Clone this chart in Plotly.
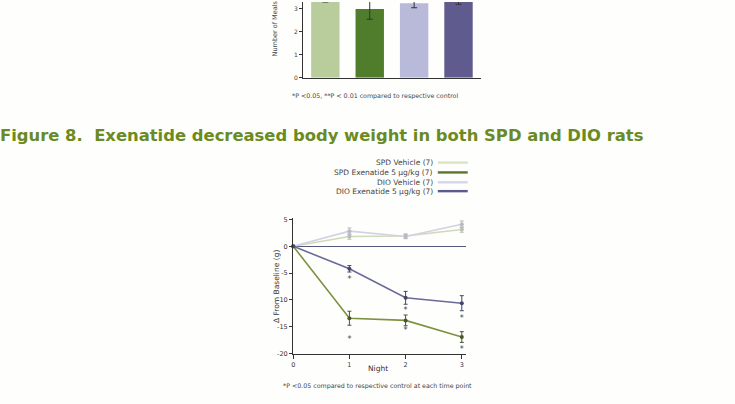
import plotly.graph_objects as go

W, H = 735, 404
def px(x): return x / W
def py(y): return 1 - y / H

# ---- data ----
bar_groups = ["SPD Vehicle", "SPD Exenatide", "DIO Vehicle", "DIO Exenatide"]
bar_values = [3.6, 3.0, 3.25, 3.5]
bar_errors = [0.3, 0.45, 0.2, 0.3]
bar_colors = ["#b9cc9c", "#4f7d2c", "#b9b9d9", "#5f5b8f"]
bar_ticks = [0, 1, 2, 3]

nights = [0, 1, 2, 3]
series_names = ["SPD Vehicle (7)", "SPD Exenatide 5 μg/kg (7)", "DIO Vehicle (7)", "DIO Exenatide 5 μg/kg (7)"]
series_values = {
    "SPD Vehicle (7)": [0, 1.8, 1.9, 3.1],
    "SPD Exenatide 5 μg/kg (7)": [0, -13.4, -13.8, -16.9],
    "DIO Vehicle (7)": [0, 2.8, 1.8, 4.1],
    "DIO Exenatide 5 μg/kg (7)": [0, -4.2, -9.6, -10.6],
}
series_errors = {
    "SPD Vehicle (7)": [0, 0.5, 0.4, 0.5],
    "SPD Exenatide 5 μg/kg (7)": [0, 1.3, 1.0, 1.0],
    "DIO Vehicle (7)": [0, 0.6, 0.4, 0.6],
    "DIO Exenatide 5 μg/kg (7)": [0, 0.6, 1.2, 1.4],
}
series_colors = ["#cfd9bb", "#7d9240", "#d2d2e2", "#6a6a9a"]
marker_colors = ["#b8c0b0", "#4a5530", "#b8b8c8", "#45456a"]
legend_colors = ["#d8e4c4", "#56792c", "#d6d6ea", "#5e5a8e"]
star_x = [1, 2, 3]
star_dio = [-6.3, -12.0, -13.6]
star_spd = [-17.4, -15.7, -19.3]
line_yticks = [-20, -15, -10, -5, 0, 5]

fig = go.Figure()

# top bar chart (cropped)
fig.add_trace(go.Bar(
    x=bar_groups, y=bar_values, marker=dict(color=bar_colors, line=dict(width=0)),
    width=0.64, error_y=dict(type="data", array=bar_errors, color="#333", thickness=1, width=3),
    xaxis="x", yaxis="y", showlegend=False))

# line chart
for name, col, mcol in zip(series_names, series_colors, marker_colors):
    fig.add_trace(go.Scatter(
        x=nights, y=series_values[name], mode="lines+markers", name=name,
        line=dict(color=col, width=1.6), marker=dict(color=mcol, size=4),
        error_y=dict(type="data", array=series_errors[name], color=mcol, thickness=1, width=2),
        xaxis="x2", yaxis="y2", showlegend=False, cliponaxis=False))

for ys in (star_dio, star_spd):
    fig.add_trace(go.Scatter(x=star_x, y=ys, mode="text", text=["*"] * len(ys),
                             textfont=dict(family="DejaVu Sans", size=8, color="#444"),
                             xaxis="x2", yaxis="y2", showlegend=False, cliponaxis=False))

small = "DejaVu Sans"
tick_font = dict(family=small, size=6.5, color="#333")

fig.update_layout(
    width=W, height=H, autosize=False, margin=dict(l=0, r=0, t=0, b=0),
    paper_bgcolor="#fefefc", plot_bgcolor="rgba(0,0,0,0)",
    xaxis=dict(domain=[px(302), px(480)], range=[-0.5, 3.5], showticklabels=False,
               showline=True, linecolor="#333", linewidth=1.2, ticks="", showgrid=False, zeroline=False),
    yaxis=dict(domain=[py(77), 1], range=[0, 3.3], tickvals=bar_ticks, ticks="outside", ticklen=3,
               tickcolor="#333", showline=True, linecolor="#333", linewidth=1.2, showgrid=False,
               zeroline=False, tickfont=dict(family=small, size=6, color="#444")),
    xaxis2=dict(domain=[px(292), px(465)], range=[0, 3.07], tickvals=nights, ticks="outside",
                ticklen=4, tickcolor="#333", showline=True, linecolor="#333", linewidth=1.4,
                showgrid=False, zeroline=False, tickfont=tick_font, anchor="y2"),
    yaxis2=dict(domain=[py(357), py(219)], range=[-20, 5.3], tickvals=line_yticks,
                ticktext=[str(v) for v in line_yticks], ticks="outside",
                ticklen=3, tickcolor="#333", showline=True, linecolor="#333", linewidth=1.4,
                showgrid=False, zeroline=True, zerolinecolor="#555a7a", zerolinewidth=1.4,
                tickfont=tick_font, anchor="x2"),
)

ann = []
ann.append(dict(text="Number of Meals", x=px(274), y=py(57), xref="paper", yref="paper",
                textangle=-90, xanchor="center", yanchor="bottom", showarrow=False,
                font=dict(family=small, size=6.5, color="#444")))
ann.append(dict(text="*P <0.05, **P < 0.01 compared to respective control", x=px(374), y=py(95),
                xref="paper", yref="paper", showarrow=False, xanchor="center", yanchor="middle",
                font=dict(family=small, size=6.3, color="#444")))
ann.append(dict(text="<b>Figure 8.  Exenatide decreased body weight in both SPD and DIO rats</b>",
                x=px(-4), y=py(136), xref="paper", yref="paper", showarrow=False,
                xanchor="left", yanchor="middle",
                font=dict(family="DejaVu Sans", size=16.4, color="#6a8a22")))
ann.append(dict(text="Δ From Baseline (g)", x=px(275), y=py(289), xref="paper", yref="paper",
                textangle=-90, showarrow=False, xanchor="center", yanchor="middle",
                font=dict(family=small, size=7.5, color="#333")))
ann.append(dict(text="Night", x=px(377), y=py(379), xref="paper", yref="paper", showarrow=False,
                font=dict(family=small, size=7.5, color="#333")))
ann.append(dict(text="*P <0.05 compared to respective control at each time point", x=px(377), y=py(396),
                xref="paper", yref="paper", showarrow=False,
                font=dict(family=small, size=6.3, color="#444")))

legend_rows = [163, 173, 183, 192]
shapes = []
for name, col, ry in zip(series_names, legend_colors, legend_rows):
    ann.append(dict(text=name, x=px(434), y=py(ry), xref="paper", yref="paper", showarrow=False,
                    xanchor="right", yanchor="middle",
                    font=dict(family=small, size=7.5, color="#444")))
    shapes.append(dict(type="line", xref="paper", yref="paper", x0=px(437), x1=px(467),
                       y0=py(ry), y1=py(ry), line=dict(color=col, width=2.4)))

fig.update_layout(annotations=ann, shapes=shapes)
fig.write_html("out.html", config={"displayModeBar": False},
               post_script="document.body.style.margin='0';")
